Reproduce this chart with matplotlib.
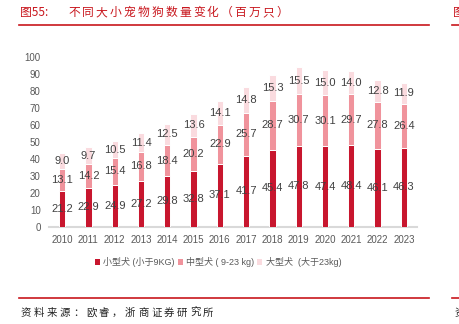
import matplotlib
matplotlib.use("Agg")
import matplotlib.pyplot as plt
from matplotlib.patches import Patch
from matplotlib.lines import Line2D
import numpy as np

plt.rcParams['font.family'] = ['Liberation Sans', 'Noto Sans CJK SC', 'DejaVu Sans']

years = ["2010", "2011", "2012", "2013", "2014", "2015", "2016",
         "2017", "2018", "2019", "2020", "2021", "2022", "2023"]
small = [21.2, 22.9, 24.9, 27.2, 29.8, 32.8, 37.1, 41.7, 45.4, 47.8, 47.4, 48.4, 46.1, 46.3]
medium = [13.1, 14.2, 15.4, 16.8, 18.4, 20.2, 22.9, 25.7, 28.7, 30.7, 30.1, 29.7, 27.8, 26.4]
large = [9.0, 9.7, 10.5, 11.4, 12.5, 13.6, 14.1, 14.8, 15.3, 15.5, 15.0, 14.0, 12.8, 11.9]
series_names = ["小型犬 (小于9KG)", "中型犬 ( 9-23 kg)", "大型犬  (大于23kg)"]
yticks = [0, 10, 20, 30, 40, 50, 60, 70, 80, 90, 100]
title_head = "图55:"
title_body = "不同大小宠物狗数量变化（百万只）"
source = "资料来源：欧睿，浙商证券研究所"

colors = ["#C8162E", "#F0939C", "#FADBDF"]
red = "#C8161D"
W, H = 459, 324

fig = plt.figure(figsize=(W / 100, H / 100), dpi=100)
ax = fig.add_axes([49 / W, 1 - 226.7 / H, (417 - 49) / W, (226.7 - 57.3) / H])

x = np.arange(len(years))
bw = 0.24
bottoms = np.zeros(len(years))
for vals, c in zip([small, medium, large], colors):
    vals = np.array(vals)
    ax.bar(x, vals, bw, bottom=bottoms, color=c, edgecolor="white", linewidth=0.7, zorder=3)
    for xi, b, v in zip(x, bottoms, vals):
        ax.text(xi, b + v / 2, f"{v:.1f}", ha="center", va="center",
                fontsize=8, color="#404040", zorder=4)
    bottoms = bottoms + vals

ax.set_xlim(-0.5, 13.5)
ax.set_ylim(0, 100)
ax.set_yticks(yticks)
ax.set_xticks(x)
ax.set_xticklabels(years)
ax.tick_params(axis="both", length=0, labelsize=7, colors="#595959")
ax.tick_params(axis="x", pad=6)
ax.tick_params(axis="y", pad=6)
for s in ["top", "right", "left"]:
    ax.spines[s].set_visible(False)
ax.spines["bottom"].set_color("#D9D9D9")
ax.spines["bottom"].set_linewidth(1.5)

handles = [Patch(facecolor=c, edgecolor="none") for c in colors]
fig.legend(handles, series_names, loc="center", bbox_to_anchor=(218 / W, 1 - 262 / H),
           ncol=3, frameon=False, fontsize=6.5, handlelength=0.55, handleheight=0.55,
           handletextpad=0.4, columnspacing=0.3, labelcolor="#595959")

cjk = ['Noto Sans CJK SC', 'DejaVu Sans']
# title
fig.text(20 / W, 1 - 12.5 / H, title_head, color=red, fontsize=8.5, va="center", ha="left", family=cjk)
step = (290 - 68) / len(title_body)
for i, ch in enumerate(title_body):
    fig.text((68 + i * step) / W, 1 - 12.5 / H, ch, color=red, fontsize=8.5,
             va="center", ha="left", family=cjk)
fig.add_artist(Line2D([19 / W, 429 / W], [1 - 24.5 / H] * 2, color=red, lw=1.2))
fig.add_artist(Line2D([452 / W, 1.0], [1 - 24.5 / H] * 2, color=red, lw=1.2))
fig.text(453 / W, 1 - 12.5 / H, "图", color=red, fontsize=8.5, va="center", ha="left", family=cjk)

# footer
fig.add_artist(Line2D([19 / W, 429 / W], [1 - 297.7 / H] * 2, color=red, lw=1.2))
fig.add_artist(Line2D([452 / W, 1.0], [1 - 297.7 / H] * 2, color=red, lw=1.2))
fstep = 13.0
for i, ch in enumerate(source):
    fig.text((21 + i * fstep) / W, 1 - 313 / H, ch, color="#222222", fontsize=7.5,
             va="center", ha="left", family=cjk)
fig.text(455 / W, 1 - 313 / H, "资", color="#222222", fontsize=7.5, va="center", ha="left", family=cjk)

fig.savefig("out.png", dpi=100)
